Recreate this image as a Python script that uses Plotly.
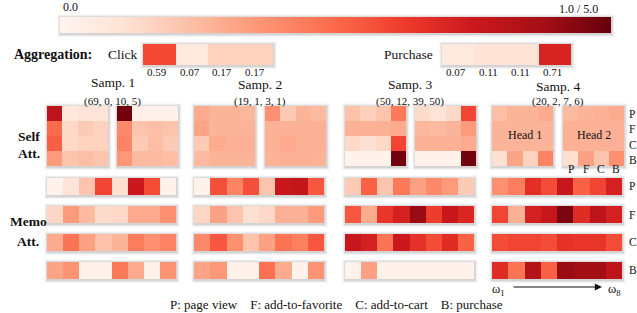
import plotly.graph_objects as go

W, H = 637, 313

# ---------------- data ----------------
behaviors = ["P", "F", "C", "B"]
samples = ["Samp. 1", "Samp. 2", "Samp. 3", "Samp. 4"]
sample_counts = ["(69, 0, 10, 5)", "(19, 1, 3, 1)", "(50, 12, 39, 50)", "(20, 2, 7, 6)"]

agg_click = [0.59, 0.07, 0.17, 0.17]
agg_purchase = [0.07, 0.11, 0.11, 0.71]

# self-attention: [sample][head] -> 4x4 (rows P,F,C,B ; cols P,F,C,B)
self_att = [
    [
        [[0.80, 0.08, 0.10, 0.10], [0.50, 0.15, 0.20, 0.17], [0.53, 0.15, 0.17, 0.17], [0.35, 0.22, 0.24, 0.22]],
        [[0.98, 0.03, 0.03, 0.03], [0.40, 0.22, 0.24, 0.22], [0.42, 0.20, 0.24, 0.20], [0.36, 0.25, 0.25, 0.24]],
    ],
    [
        [[0.30, 0.27, 0.27, 0.26], [0.32, 0.27, 0.27, 0.27], [0.20, 0.30, 0.28, 0.28], [0.25, 0.27, 0.27, 0.27]],
        [[0.38, 0.20, 0.27, 0.25], [0.28, 0.28, 0.28, 0.28], [0.28, 0.30, 0.28, 0.28], [0.27, 0.28, 0.28, 0.27]],
    ],
    [
        [[0.23, 0.18, 0.22, 0.45], [0.28, 0.28, 0.28, 0.30], [0.15, 0.12, 0.15, 0.60], [0.02, 0.02, 0.02, 0.98]],
        [[0.14, 0.10, 0.15, 0.60], [0.26, 0.25, 0.27, 0.35], [0.28, 0.28, 0.28, 0.30], [0.02, 0.02, 0.02, 0.98]],
    ],
    [
        [[0.24, 0.27, 0.27, 0.30], [0.27, 0.27, 0.27, 0.27], [0.27, 0.27, 0.27, 0.27], [0.12, 0.32, 0.17, 0.42]],
        [[0.25, 0.27, 0.28, 0.30], [0.28, 0.28, 0.28, 0.28], [0.28, 0.28, 0.28, 0.28], [0.13, 0.33, 0.22, 0.38]],
    ],
]

# memory attention: [sample][behavior] -> 8 memory slots (w1..w8)
memo_att = [
    [
        [0.02, 0.10, 0.22, 0.60, 0.13, 0.75, 0.58, 0.02],
        [0.16, 0.35, 0.25, 0.14, 0.15, 0.30, 0.30, 0.38],
        [0.30, 0.47, 0.33, 0.23, 0.27, 0.44, 0.38, 0.42],
        [0.32, 0.37, 0.02, 0.02, 0.45, 0.30, 0.02, 0.37],
    ],
    [
        [0.02, 0.57, 0.42, 0.57, 0.22, 0.76, 0.78, 0.55],
        [0.16, 0.33, 0.22, 0.12, 0.15, 0.28, 0.28, 0.35],
        [0.40, 0.55, 0.38, 0.22, 0.33, 0.47, 0.43, 0.55],
        [0.32, 0.36, 0.02, 0.02, 0.48, 0.30, 0.02, 0.37],
    ],
    [
        [0.20, 0.52, 0.22, 0.45, 0.33, 0.40, 0.35, 0.20],
        [0.55, 0.30, 0.65, 0.72, 0.90, 0.62, 0.76, 0.70],
        [0.76, 0.72, 0.47, 0.75, 0.66, 0.58, 0.68, 0.52],
        [0.02, 0.33, 0.02, 0.02, 0.02, 0.02, 0.02, 0.02],
    ],
    [
        [0.38, 0.44, 0.67, 0.58, 0.76, 0.52, 0.60, 0.72],
        [0.60, 0.28, 0.72, 0.76, 0.96, 0.68, 0.80, 0.72],
        [0.58, 0.60, 0.60, 0.58, 0.66, 0.65, 0.65, 0.58],
        [0.68, 0.47, 0.82, 0.52, 0.90, 0.88, 0.88, 0.80],
    ],
]

# ---------------- layout geometry (pixels) ----------------
FONT = "Liberation Serif"
self_x = [[(47, 108), (117, 178)], [(194, 255), (265, 326)],
          [(345, 406), (415, 476)], [(492, 553), (563, 624)]]
self_y = (106, 166)
memo_x = [(47, 176), (194, 324), (345, 474), (492, 622)]
memo_y = [(178, 195), (206, 223), (234, 251), (262, 279)]

fig = go.Figure()
layout = {}
shapes = []
annotations = []
count = [0]


def shadow(x0, x1, y0, y1):
    for k, a in ((3, 0.04), (2, 0.06), (1, 0.08)):
        shapes.append(dict(type="rect", xref="paper", yref="paper", layer="below",
                           x0=(x0 - k + 0.5) / W, x1=(x1 + k + 0.5) / W,
                           y0=1 - (y1 + k + 1) / H, y1=1 - (y0 - k + 0.5) / H,
                           line=dict(width=0), fillcolor="rgba(0,0,0,%.2f)" % a))


def add_hm(z, x0, x1, y0, y1):
    count[0] += 1
    i = count[0]
    sfx = "" if i == 1 else str(i)
    fig.add_trace(go.Heatmap(z=z, coloraxis="coloraxis", xaxis="x" + sfx, yaxis="y" + sfx,
                             hoverinfo="skip"))
    layout["xaxis" + sfx] = dict(domain=[x0 / W, x1 / W], visible=False, anchor="y" + sfx,
                                 fixedrange=True)
    layout["yaxis" + sfx] = dict(domain=[1 - y1 / H, 1 - y0 / H], visible=False, anchor="x" + sfx,
                                 autorange="reversed", fixedrange=True)
    shadow(x0, x1, y0, y1)


def text(x, y, s, size=12, bold=False, xanchor="center"):
    annotations.append(dict(x=x / W, y=1 - y / H, xref="paper", yref="paper", text=("<b>%s</b>" % s) if bold else s,
                            showarrow=False, xanchor=xanchor, yanchor="middle",
                            font=dict(family=FONT, size=size, color="#111")))


# aggregation
add_hm([agg_click], 143, 273, 44, 65)
add_hm([agg_purchase], 442, 571, 44, 65)
text(12, 55, "Aggregation:", 14, True, "left")
text(106, 55, "Click", 13.5, False, "left")
text(382, 55, "Purchase", 13.5, False, "left")
for j, v in enumerate(agg_click):
    text(143 + (j + 0.5) * 130 / 4 - 2, 72, "%.2f" % v, 11)
for j, v in enumerate(agg_purchase):
    text(442 + (j + 0.5) * 129 / 4 - 2, 72, "%.2f" % v, 11)

# self attention
for s in range(4):
    for h in range(2):
        x0, x1 = self_x[s][h]
        add_hm(self_att[s][h], x0, x1, *self_y)
# memory attention
for s in range(4):
    for b in range(4):
        add_hm([memo_att[s][b]], memo_x[s][0], memo_x[s][1], *memo_y[b])

# titles
samp_y = [82, 85, 85, 86]
for s in range(4):
    cx = (self_x[s][0][0] + self_x[s][1][1]) / 2
    text(cx, samp_y[s], samples[s], 13.5)
    text(cx, 101.5, sample_counts[s], 11)

text(525, 135, "Head 1", 12)
text(594, 135, "Head 2", 12)
for j, b in enumerate(behaviors):
    text(563 + (j + 0.5) * 61 / 4, 169, b, 11.5)
    text(627, [114, 129, 145, 160][j], b, 11.5, False, "left")
    text(627, [186, 215, 242, 270][j], b, 11.5, False, "left")

text(29, 136, "Self", 13.5, True)
text(29, 154, "Att.", 13.5, True)
text(28, 221, "Memo", 13.5, True)
text(28, 241, "Att.", 13.5, True)

text(70, 7, "0.0", 12)
text(600, 9, "1.0 / 5.0", 12, False, "right")

text(498, 290, "ω<sub>1</sub>", 12.5)
text(614, 290, "ω<sub>8</sub>", 12.5)
annotations.append(dict(x=602 / W, y=1 - 287 / H, ax=-90, ay=0,
                        xref="paper", yref="paper", axref="pixel", ayref="pixel",
                        text="", showarrow=True, arrowhead=2, arrowsize=1.2, arrowwidth=1.2,
                        arrowcolor="#111"))

text(336, 304, "P: page view &nbsp;&nbsp; F: add-to-favorite &nbsp;&nbsp; C: add-to-cart &nbsp;&nbsp; B: purchase", 13)

# colorbar shadow
shadow(60, 611, 17, 33)

fig.update_layout(
    width=W, height=H, margin=dict(l=0, r=0, t=0, b=0),
    paper_bgcolor="white", plot_bgcolor="rgba(0,0,0,0)", showlegend=False,
    coloraxis=dict(colorscale="Reds", cmin=0, cmax=1,
                   colorbar=dict(orientation="h", x=335.5 / W, xanchor="center",
                                 y=1 - 25 / H, yanchor="middle", len=551 / W, lenmode="fraction",
                                 thickness=16, thicknessmode="pixels", xpad=0, ypad=0,
                                 outlinewidth=0, showticklabels=False, ticks="")),
    shapes=shapes, annotations=annotations,
    **layout,
)

fig.write_html("out.html", config={"displayModeBar": False},
               post_script="document.body.style.margin='0';document.body.style.overflow='hidden';")
